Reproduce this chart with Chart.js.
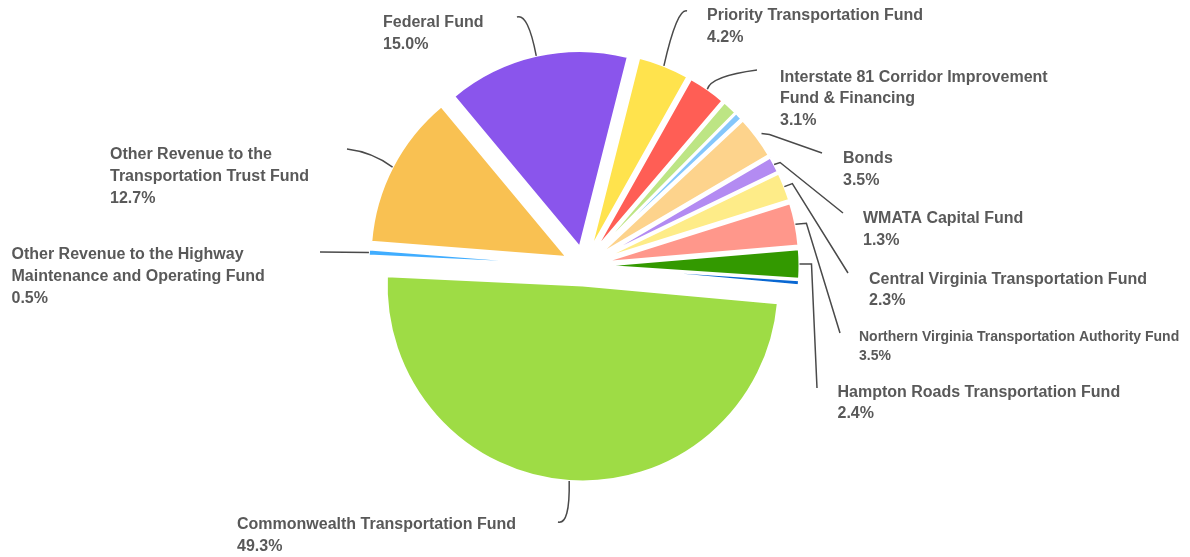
<!DOCTYPE html>
<html>
<head>
<meta charset="utf-8">
<script src="https://cdn.jsdelivr.net/npm/chart.js@4.4.1/dist/chart.umd.min.js"></script>
<style>
html,body{margin:0;padding:0;background:#ffffff;}
#wrap{width:1190px;height:557px;position:relative;}
</style>
</head>
<body>
<div id="wrap"><canvas id="chart"></canvas></div>
<script>
// ---- data ----
const categories = [
  'Commonwealth Transportation Fund',
  'Other Revenue to the Highway Maintenance and Operating Fund',
  'Other Revenue to the Transportation Trust Fund',
  'Federal Fund',
  'Priority Transportation Fund',
  'Interstate 81 Corridor Improvement Fund & Financing',
  'Unlabeled slice A',
  'Unlabeled slice B',
  'Bonds',
  'WMATA Capital Fund',
  'Central Virginia Transportation Fund',
  'Northern Virginia Transportation Authority Fund',
  'Hampton Roads Transportation Fund',
  'Unlabeled slice C'
];
const shares = [49.3, 0.5, 12.7, 15.0, 4.2, 3.1, 1.2, 0.6, 3.5, 1.3, 2.3, 3.5, 2.4, 0.4];
const labelText = [
  ['Commonwealth Transportation Fund'],
  ['Other Revenue to the Highway', 'Maintenance and Operating Fund'],
  ['Other Revenue to the', 'Transportation Trust Fund'],
  ['Federal Fund'],
  ['Priority Transportation Fund'],
  ['Interstate 81 Corridor Improvement', 'Fund & Financing'],
  null,
  null,
  ['Bonds'],
  ['WMATA Capital Fund'],
  ['Central Virginia Transportation Fund'],
  ['Northern Virginia Transportation Authority Fund'],
  ['Hampton Roads Transportation Fund'],
  null
];

// ---- styles ----
const colors = ['#9EDC45', '#40ADFF', '#F9C152', '#8A55EC', '#FFE34D', '#FF5E55', '#BDE584',
                '#85C7FB', '#FDD38C', '#B38BF2', '#FEEC88', '#FF978B', '#339900', '#0967D2'];
const explodeDist = 19.5;
const labelLayout = [
  {x: 237, y: 529, lh: 22, size: 16, ctrl: [570, 525], end: [558, 522]},
  {x: 11.5, y: 259.3, lh: 21.7, size: 16, end: [320, 252]},
  {x: 110, y: 159.3, lh: 21.9, size: 16, ctrl: [372, 152], end: [347, 149]},
  {x: 383, y: 27.3, lh: 22, size: 16, ctrl: [528, 13], end: [517, 17]},
  {x: 707, y: 20, lh: 21.8, size: 16, ctrl: [677, 8], end: [687, 11]},
  {x: 780, y: 81.7, lh: 21.7, size: 16, ctrl: [711, 76], end: [757, 70]},
  null,
  null,
  {x: 843, y: 162.7, lh: 21.8, size: 16, gap: 6, stub: [8, 1], end: [822, 153]},
  {x: 863, y: 223.3, lh: 21.7, size: 16, stub: [6, -2], end: [843, 213]},
  {x: 869, y: 284, lh: 21.2, size: 16, stub: [8, -3], end: [848, 273]},
  {x: 859, y: 340.7, lh: 19.3, size: 14, stub: [11, -1], end: [840, 333]},
  {x: 837.5, y: 396.7, lh: 21.6, size: 16, stub: [12, 0], end: [817, 388]},
  null
];

const explodePlugin = {
  id: 'explodeSlices',
  afterDatasetUpdate(chart, args) {
    const meta = chart.getDatasetMeta(args.index);
    meta.data.forEach(el => {
      const mid = (el.startAngle + el.endAngle) / 2;
      el.x += Math.cos(mid) * explodeDist;
      el.y += Math.sin(mid) * explodeDist;
    });
  }
};

const labelPlugin = {
  id: 'outerLabels',
  afterDatasetsDraw(chart) {
    const ctx = chart.ctx;
    const meta = chart.getDatasetMeta(0);
    meta.data.forEach((el, i) => {
      const L = labelLayout[i];
      if (!L || !labelText[i]) return;
      const mid = (el.startAngle + el.endAngle) / 2;
      const r = el.outerRadius + (L.gap || 0);
      const sx = el.x + Math.cos(mid) * r;
      const sy = el.y + Math.sin(mid) * r;
      ctx.save();
      ctx.strokeStyle = '#4a4a4a';
      ctx.lineWidth = 1.5;
      ctx.beginPath();
      ctx.moveTo(sx, sy);
      if (L.stub) ctx.lineTo(sx + L.stub[0], sy + L.stub[1]);
      if (L.ctrl) ctx.quadraticCurveTo(L.ctrl[0], L.ctrl[1], L.end[0], L.end[1]);
      else ctx.lineTo(L.end[0], L.end[1]);
      ctx.stroke();
      ctx.fillStyle = '#595959';
      ctx.textBaseline = 'alphabetic';
      ctx.textAlign = 'left';
      ctx.font = 'bold ' + L.size + 'px "Liberation Sans", Arial, sans-serif';
      const lines = labelText[i].concat([shares[i].toFixed(1) + '%']);
      lines.forEach((t, k) => ctx.fillText(t, L.x, L.y + k * L.lh));
      ctx.restore();
    });
  }
};

new Chart(document.getElementById('chart'), {
  type: 'pie',
  data: {
    labels: categories,
    datasets: [{
      data: shares,
      backgroundColor: colors,
      borderColor: '#ffffff',
      borderWidth: 2
    }]
  },
  options: {
    responsive: true,
    maintainAspectRatio: false,
    animation: false,
    events: [],
    radius: 196,
    rotation: 95.2,
    layout: {padding: {left: 0, right: 22, top: 0, bottom: 25}},
    plugins: {legend: {display: false}, tooltip: {enabled: false}, title: {display: false}}
  },
  plugins: [explodePlugin, labelPlugin]
});
</script>
</body>
</html>
